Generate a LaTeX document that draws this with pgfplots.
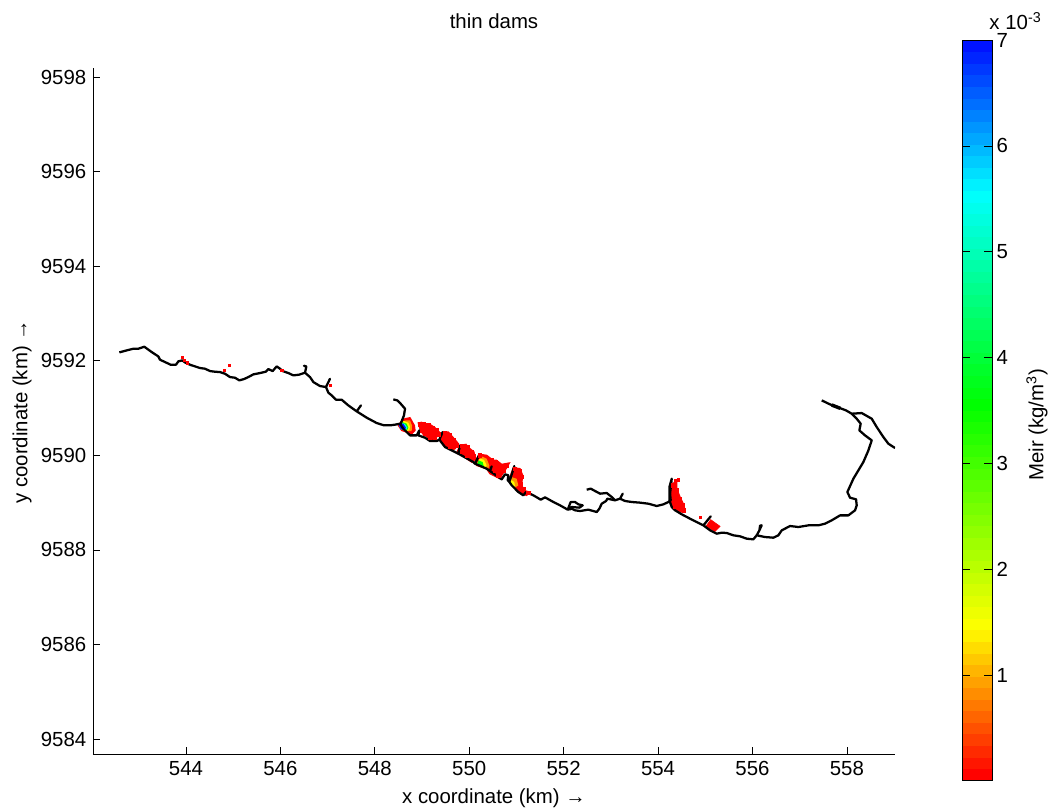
\documentclass[border=0pt]{standalone}
\usepackage{pgfplots}
\usepackage{pgfplotstable}
\usepackage{fontspec}
\setmainfont{Liberation Sans}
\pgfplotsset{compat=1.18}
\definecolor{c08}{RGB}{255,150,0}
\definecolor{c14}{RGB}{255,255,0}
\definecolor{c35}{RGB}{0,255,0}
\definecolor{c53}{RGB}{0,255,255}
\definecolor{c68}{RGB}{0,20,255}
\pgfplotstableread{
x y
542.588 9592.178
542.743 9592.220
542.884 9592.255
542.990 9592.255
543.117 9592.298
543.273 9592.185
543.414 9592.093
543.449 9592.023
543.555 9591.974
543.675 9591.917
543.788 9591.917
543.838 9591.988
543.922 9592.009
543.979 9591.966
544.085 9591.917
544.191 9591.882
544.297 9591.847
544.403 9591.833
544.509 9591.783
544.614 9591.769
544.720 9591.762
544.826 9591.727
544.932 9591.656
545.038 9591.642
545.130 9591.586
545.229 9591.614
545.321 9591.656
545.427 9591.713
545.568 9591.741
545.688 9591.769
545.744 9591.825
545.836 9591.783
545.921 9591.882
545.992 9591.833
546.048 9591.783
546.168 9591.741
546.274 9591.692
546.394 9591.706
546.521 9591.748
546.550 9591.880
546.500 9591.895
546.550 9591.880
546.521 9591.748
546.627 9591.656
546.698 9591.551
546.839 9591.466
546.966 9591.445
547.050 9591.620
546.966 9591.445
547.016 9591.325
547.086 9591.269
547.178 9591.177
547.298 9591.177
547.439 9591.057
547.616 9590.931
547.706 9591.057
547.616 9590.931
547.828 9590.797
548.040 9590.684
548.195 9590.635
548.322 9590.635
548.428 9590.649
548.534 9590.670
548.604 9590.564
548.746 9590.423
548.887 9590.423
548.943 9590.529
548.922 9590.423
549.063 9590.374
549.169 9590.303
549.311 9590.303
549.367 9590.332
549.438 9590.494
549.367 9590.332
549.487 9590.177
549.770 9590.036
549.805 9590.212
549.770 9590.036
550.087 9589.859
550.123 9589.824
550.215 9590.022
550.123 9589.824
550.370 9589.718
550.440 9589.669
550.476 9589.768
550.440 9589.669
550.688 9589.493
550.758 9589.599
550.829 9589.578
550.815 9589.472
550.850 9589.437
550.956 9589.775
550.850 9589.437
550.900 9589.366
551.041 9589.225
551.147 9589.155
551.203 9589.225
551.359 9589.155
551.515 9589.063
551.606 9589.112
551.783 9589.014
551.924 9588.943
552.087 9588.852
552.171 9588.873
552.242 9588.838
552.348 9588.823
552.524 9588.852
552.701 9588.802
552.757 9588.873
552.807 9588.978
552.899 9589.035
552.927 9589.084
553.089 9589.049
553.195 9589.084
553.252 9589.190
553.195 9589.084
553.301 9589.035
553.442 9589.014
553.619 9589.000
553.796 9588.978
553.972 9588.929
554.113 9588.964
554.219 9589.014
554.269 9589.049
554.255 9589.190
554.290 9589.507
554.241 9589.331
554.241 9589.049
554.290 9588.908
554.361 9588.838
554.502 9588.753
554.678 9588.661
554.961 9588.520
555.116 9588.711
554.961 9588.520
555.102 9588.415
555.243 9588.344
555.349 9588.365
555.455 9588.358
555.597 9588.309
555.738 9588.288
555.878 9588.238
556.019 9588.224
556.090 9588.309
556.147 9588.414
556.196 9588.520
556.161 9588.513
556.147 9588.414
556.090 9588.309
556.267 9588.273
556.443 9588.259
556.549 9588.309
556.620 9588.414
556.796 9588.506
556.973 9588.485
557.185 9588.520
557.397 9588.520
557.538 9588.555
557.679 9588.626
557.856 9588.731
558.032 9588.731
558.173 9588.837
558.209 9588.943
558.195 9589.070
558.067 9589.105
558.011 9589.225
558.138 9589.506
558.350 9589.859
558.456 9590.105
558.527 9590.317
558.385 9590.423
558.265 9590.528
558.293 9590.669
558.209 9590.775
558.103 9590.881
557.983 9590.951
557.644 9591.078
557.467 9591.163
}\mainline
\pgfplotstableread{
x y
558.103 9590.881
558.315 9590.895
558.527 9590.775
558.633 9590.599
558.774 9590.387
558.880 9590.246
559.021 9590.155
}\eastline
\pgfplotstableread{
x y
548.548 9590.670
548.618 9590.846
548.640 9590.987
548.548 9591.092
548.477 9591.163
548.392 9591.184
}\northbranch
\pgfplotstableread{
x y
552.087 9588.852
552.122 9588.943
552.150 9589.014
552.242 9589.014
552.313 9588.964
552.404 9588.943
552.334 9588.894
552.171 9588.908
552.122 9588.852
}\loopline
\pgfplotstableread{
x y
552.489 9589.274
552.574 9589.296
552.666 9589.246
552.772 9589.190
552.913 9589.204
553.019 9589.119
553.089 9589.049
}\upperbranch
\pgfplotstableread{
x y
543.922 9592.079
543.958 9592.009
544.028 9591.959
544.805 9591.797
544.918 9591.903
546.027 9591.797
547.051 9591.487
554.360 9589.472
554.430 9589.486
554.889 9588.696
}\dots
\pgfplotstableread{
x y
548.957 9590.655
549.028 9590.669
549.134 9590.634
549.225 9590.585
549.310 9590.528
549.353 9590.444
548.993 9590.528
549.063 9590.458
549.169 9590.373
549.275 9590.373
549.487 9590.472
549.593 9590.423
549.677 9590.317
549.734 9590.211
549.466 9590.352
549.593 9590.176
549.840 9590.197
549.960 9590.176
550.052 9590.070
550.087 9589.979
549.946 9590.000
549.840 9590.070
550.228 9590.000
550.475 9589.894
550.567 9589.859
550.666 9589.767
550.793 9589.788
550.736 9589.668
550.616 9589.577
550.546 9589.682
550.969 9589.718
551.061 9589.668
551.111 9589.541
551.089 9589.400
551.146 9589.295
551.252 9589.203
554.324 9589.366
554.395 9589.260
554.465 9589.084
554.522 9588.943
554.550 9588.837
554.360 9588.907
}\cells
\pgfplotstableread{
x y
0 0.010
1 0.010
0 0.119
1 0.119
0 0.228
1 0.228
0 0.338
1 0.338
0 0.447
1 0.447
0 0.556
1 0.556
0 0.665
1 0.665
0 0.775
1 0.775
0 0.884
1 0.884
0 0.993
1 0.993
0 1.102
1 1.102
0 1.211
1 1.211
0 1.321
1 1.321
0 1.430
1 1.430
0 1.539
1 1.539
0 1.648
1 1.648
0 1.758
1 1.758
0 1.867
1 1.867
0 1.976
1 1.976
0 2.085
1 2.085
0 2.194
1 2.194
0 2.304
1 2.304
0 2.413
1 2.413
0 2.522
1 2.522
0 2.631
1 2.631
0 2.741
1 2.741
0 2.850
1 2.850
0 2.959
1 2.959
0 3.068
1 3.068
0 3.177
1 3.177
0 3.287
1 3.287
0 3.396
1 3.396
0 3.505
1 3.505
0 3.614
1 3.614
0 3.724
1 3.724
0 3.833
1 3.833
0 3.942
1 3.942
0 4.051
1 4.051
0 4.160
1 4.160
0 4.270
1 4.270
0 4.379
1 4.379
0 4.488
1 4.488
0 4.597
1 4.597
0 4.707
1 4.707
0 4.816
1 4.816
0 4.925
1 4.925
0 5.034
1 5.034
0 5.143
1 5.143
0 5.253
1 5.253
0 5.362
1 5.362
0 5.471
1 5.471
0 5.580
1 5.580
0 5.690
1 5.690
0 5.799
1 5.799
0 5.908
1 5.908
0 6.017
1 6.017
0 6.126
1 6.126
0 6.236
1 6.236
0 6.345
1 6.345
0 6.454
1 6.454
0 6.563
1 6.563
0 6.673
1 6.673
0 6.782
1 6.782
0 6.891
1 6.891
0 7.000
1 7.000
}\cbar
\begin{document}
\begin{tikzpicture}
\useasboundingbox (0,0) rectangle (792pt,607.5pt);
\begin{axis}[
  at={(69.75pt,41.5pt)}, anchor=south west,
  scale only axis, width=601.5pt, height=515.25pt,
  xmin=542.03, xmax=559.02, ymin=9583.67, ymax=9598.2,
  axis lines=left, axis line style={-, black, line width=0.6pt},
  xtick={544,546,548,550,552,554,556,558},
  ytick={9584,9586,9588,9590,9592,9594,9596,9598},
  tick align=inside, tick style={black, line width=0.5pt},
  major tick length=5.5pt,
  /pgf/number format/1000 sep={},
  /pgf/number format/assume math mode=true,
  tick label style={font=\fontsize{15.3}{17}\selectfont},
  xticklabel style={yshift=-1.5pt},
  yticklabel style={xshift=-1.5pt},
  label style={font=\fontsize{15.3}{17}\selectfont},
  title={thin dams},
  title style={font=\fontsize{15.3}{17}\selectfont, at={(axis description cs:0.5,1.056)}, anchor=center},
  xlabel={x coordinate (km) →},
  xlabel style={at={(axis description cs:0.5,-0.064)}, anchor=center},
  ylabel={y coordinate (km) →},
  ylabel style={at={(axis description cs:-0.0885,0.499)}, anchor=center, rotate=0},
]
% edge cells of the plume
\addplot[only marks, mark=square*, mark size=1.25pt, mark options={draw=red, fill=red}] table {\cells};
% concentration patches
\addplot[fill=red, draw=red, line width=1pt] coordinates {(548.640,9590.775)(548.745,9590.796)(548.795,9590.705)(548.837,9590.634)(548.851,9590.528)(548.781,9590.458)(548.675,9590.493)(548.569,9590.528)(548.498,9590.634)(548.569,9590.726)} -- cycle;
\addplot[fill=c08, draw=none] coordinates {(548.661,9590.740)(548.745,9590.740)(548.788,9590.634)(548.781,9590.514)(548.689,9590.514)(548.534,9590.585)(548.548,9590.705)} -- cycle;
\addplot[fill=c14, draw=none] coordinates {(548.618,9590.726)(548.710,9590.691)(548.745,9590.613)(548.731,9590.528)(548.640,9590.514)(548.534,9590.585)(548.548,9590.691)} -- cycle;
\addplot[fill=c35, draw=none] coordinates {(548.576,9590.705)(548.675,9590.670)(548.710,9590.585)(548.675,9590.514)(548.548,9590.564)(548.519,9590.655)} -- cycle;
\addplot[fill=c53, draw=none] coordinates {(548.534,9590.684)(548.632,9590.670)(548.689,9590.585)(548.647,9590.514)(548.548,9590.557)(548.512,9590.627)} -- cycle;
\addplot[fill=c68, draw=none] coordinates {(548.534,9590.670)(548.604,9590.670)(548.661,9590.585)(548.632,9590.528)(548.548,9590.557)(548.512,9590.627)} -- cycle;
\addplot[fill=red, draw=red, line width=1pt] coordinates {(548.922,9590.684)(548.993,9590.698)(549.098,9590.634)(549.169,9590.655)(549.275,9590.585)(549.367,9590.493)(549.324,9590.423)(549.275,9590.317)(549.204,9590.331)(549.113,9590.387)(549.014,9590.458)(548.957,9590.564)} -- cycle;
\addplot[fill=red, draw=red, line width=1pt] coordinates {(549.451,9590.493)(549.557,9590.493)(549.663,9590.373)(549.769,9590.247)(549.699,9590.141)(549.628,9590.105)(549.522,9590.176)(549.395,9590.296)} -- cycle;
\addplot[fill=red, draw=red, line width=1pt] coordinates {(549.804,9590.211)(549.931,9590.232)(550.016,9590.141)(550.101,9590.070)(550.122,9589.929)(550.052,9589.859)(549.875,9589.979)(549.734,9590.049)} -- cycle;
\addplot[fill=red, draw=red, line width=1pt] coordinates {(550.228,9590.021)(550.369,9590.000)(550.510,9589.894)(550.581,9589.894)(550.687,9589.809)(550.849,9589.838)(550.793,9589.739)(550.687,9589.577)(550.652,9589.506)(550.510,9589.577)(550.440,9589.612)(550.369,9589.718)(550.157,9589.788)(550.122,9589.894)} -- cycle;
\addplot[fill=c08, draw=none] coordinates {(550.263,9589.979)(550.369,9589.929)(550.426,9589.788)(550.405,9589.718)(550.263,9589.739)(550.157,9589.823)} -- cycle;
\addplot[fill=c14, draw=none] coordinates {(550.214,9589.929)(550.313,9589.908)(550.369,9589.788)(550.334,9589.732)(550.193,9589.788)} -- cycle;
\addplot[fill=c35, draw=none] coordinates {(550.193,9589.894)(550.284,9589.859)(550.313,9589.753)(550.242,9589.753)(550.172,9589.823)} -- cycle;
\addplot[fill=red, draw=red, line width=1pt] coordinates {(550.934,9589.739)(551.075,9589.718)(551.132,9589.577)(551.111,9589.400)(551.146,9589.259)(551.287,9589.224)(551.216,9589.154)(551.111,9589.189)(551.005,9589.295)(550.899,9589.400)(550.863,9589.541)} -- cycle;
\addplot[fill=c08, draw=none] coordinates {(550.899,9589.541)(551.005,9589.506)(551.040,9589.365)(550.969,9589.316)(550.863,9589.436)} -- cycle;
\addplot[fill=c14, draw=none] coordinates {(550.878,9589.485)(550.955,9589.436)(550.969,9589.344)(550.899,9589.365)} -- cycle;
\addplot[fill=red, draw=red, line width=1pt] coordinates {(554.289,9589.401)(554.395,9589.436)(554.395,9589.295)(554.465,9589.119)(554.550,9588.943)(554.571,9588.802)(554.430,9588.802)(554.324,9588.872)(554.254,9589.084)(554.289,9589.225)} -- cycle;
\addplot[fill=red, draw=red, line width=0.5pt] coordinates {(555.115,9588.640)(555.313,9588.499)(555.207,9588.393)(555.016,9588.499)} -- cycle;
\addplot[only marks, mark=square*, mark size=0.9pt, mark options={draw=red, fill=red}] table {\dots};
% thin dams
\addplot[black, line width=1.7pt, line join=round] table {\mainline};
\addplot[black, line width=1.7pt, line join=round] table {\eastline};
\addplot[black, line width=1.7pt, line join=round] table {\northbranch};
\addplot[black, line width=1.7pt, line join=round] table {\loopline};
\addplot[black, line width=1.7pt, line join=round] table {\upperbranch};
\addplot[black, line width=2.6pt] coordinates {(557.680,9591.065)(557.860,9590.995)};
\end{axis}
\begin{axis}[
  at={(721.5pt,22.5pt)}, anchor=south west,
  scale only axis, width=22.5pt, height=555pt,
  xmin=0, xmax=1, ymin=0.01, ymax=7,
  xtick=\empty, ytick={1,2,3,4,5,6,7},
  yticklabel pos=right, ytick pos=both,
  tick align=inside, tick style={black, line width=0.5pt},
  major tick length=6pt,
  axis line style={black, line width=0.6pt},
  axis on top,
  /pgf/number format/assume math mode=true,
  tick label style={font=\fontsize{15.3}{17}\selectfont},
  colormap={meir}{rgb255(0cm)=(255,0,0); rgb255(1.4cm)=(255,255,0); rgb255(3.5cm)=(0,255,0); rgb255(5.5cm)=(0,255,255); rgb255(7cm)=(0,0,255)},
  point meta min=0, point meta max=7,
  ylabel={Meir (kg/m\textsuperscript{3})},
  ylabel style={at={(axis description cs:2.5,0.48)}, anchor=center, font=\fontsize{15.3}{17}\selectfont},
  clip=false,
]
\addplot[surf, shader=flat corner, mesh/cols=2, point meta=y] table {\cbar};
\node[font=\fontsize{15.3}{17}\selectfont] at (axis description cs:1.78,1.025) {x 10\textsuperscript{-3}};
\end{axis}
\end{tikzpicture}
\end{document}
